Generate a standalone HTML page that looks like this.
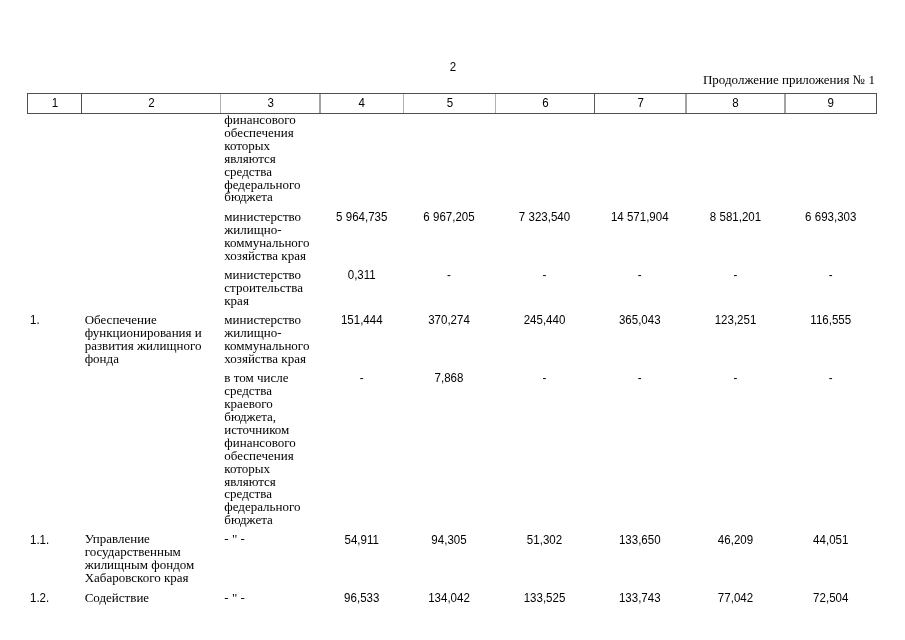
<!DOCTYPE html>
<html><head><meta charset="utf-8"><title>doc</title>
<style>
html,body{margin:0;padding:0;background:#fff;}
body{width:905px;height:640px;position:relative;overflow:hidden;color:#000;}
#w{position:absolute;left:0;top:0;width:905px;height:640px;will-change:transform;}
.s,.n{position:absolute;white-space:nowrap;height:14px;line-height:14px;}
.s{font-family:"Liberation Serif",serif;font-size:13.0px;}
.n{font-family:"Liberation Sans",sans-serif;font-size:12.4px;transform:scaleX(0.93);transform-origin:0 0;}
.c{text-align:center;transform-origin:50% 0;}
.l{position:absolute;}
</style></head><body><div id="w">

<div class="n c" style="left:432.75px;width:40.00px;top:60px;">2</div>
<div class="s" style="right:30.1px;top:73px;">Продолжение приложения № 1</div>
<div class="l" style="left:27px;top:93px;width:1px;height:21px;background:#505050;"></div>
<div class="l" style="left:81px;top:93px;width:1px;height:21px;background:#505050;"></div>
<div class="l" style="left:220px;top:93px;width:1px;height:21px;background:#b0b0b0;"></div>
<div class="l" style="left:319px;top:93px;width:2px;height:21px;background:#a2a2a2;"></div>
<div class="l" style="left:403px;top:93px;width:1px;height:21px;background:#b0b0b0;"></div>
<div class="l" style="left:495px;top:93px;width:1px;height:21px;background:#b0b0b0;"></div>
<div class="l" style="left:594px;top:93px;width:1px;height:21px;background:#585858;"></div>
<div class="l" style="left:685px;top:93px;width:2px;height:21px;background:#a4a4a4;"></div>
<div class="l" style="left:784px;top:93px;width:2px;height:21px;background:#a4a4a4;"></div>
<div class="l" style="left:876px;top:93px;width:1px;height:21px;background:#505050;"></div>
<div class="l" style="left:27px;top:93px;width:850px;height:1px;background:#505050;"></div>
<div class="l" style="left:27px;top:113px;width:850px;height:1px;background:#505050;"></div>
<div class="n c" style="left:27.50px;width:54.00px;top:96px;">1</div>
<div class="n c" style="left:81.50px;width:139.00px;top:96px;">2</div>
<div class="n c" style="left:220.50px;width:99.50px;top:96px;">3</div>
<div class="n c" style="left:320.00px;width:83.50px;top:96px;">4</div>
<div class="n c" style="left:403.50px;width:92.00px;top:96px;">5</div>
<div class="n c" style="left:495.50px;width:99.00px;top:96px;">6</div>
<div class="n c" style="left:594.50px;width:91.50px;top:96px;">7</div>
<div class="n c" style="left:686.00px;width:99.00px;top:96px;">8</div>
<div class="n c" style="left:785.00px;width:91.50px;top:96px;">9</div>
<div class="s" style="left:224.3px;top:113px;">финансового</div>
<div class="s" style="left:224.3px;top:126px;">обеспечения</div>
<div class="s" style="left:224.3px;top:139px;">которых</div>
<div class="s" style="left:224.3px;top:152px;">являются</div>
<div class="s" style="left:224.3px;top:165px;">средства</div>
<div class="s" style="left:224.3px;top:178px;">федерального</div>
<div class="s" style="left:224.3px;top:190px;">бюджета</div>
<div class="s" style="left:224.3px;top:210px;">министерство</div>
<div class="s" style="left:224.3px;top:223px;">жилищно-</div>
<div class="s" style="left:224.3px;top:236px;">коммунального</div>
<div class="s" style="left:224.3px;top:249px;">хозяйства края</div>
<div class="n c" style="left:320.30px;width:83.50px;top:210px;">5 964,735</div>
<div class="n c" style="left:403.30px;width:92.00px;top:210px;">6 967,205</div>
<div class="n c" style="left:495.20px;width:99.00px;top:210px;">7 323,540</div>
<div class="n c" style="left:594.20px;width:91.50px;top:210px;">14 571,904</div>
<div class="n c" style="left:686.00px;width:99.00px;top:210px;">8 581,201</div>
<div class="n c" style="left:785.00px;width:91.50px;top:210px;">6 693,303</div>
<div class="s" style="left:224.3px;top:268px;">министерство</div>
<div class="s" style="left:224.3px;top:281px;">строительства</div>
<div class="s" style="left:224.3px;top:294px;">края</div>
<div class="n c" style="left:320.30px;width:83.50px;top:268px;">0,311</div>
<div class="n c" style="left:403.30px;width:92.00px;top:268px;">-</div>
<div class="n c" style="left:495.20px;width:99.00px;top:268px;">-</div>
<div class="n c" style="left:594.20px;width:91.50px;top:268px;">-</div>
<div class="n c" style="left:686.00px;width:99.00px;top:268px;">-</div>
<div class="n c" style="left:785.00px;width:91.50px;top:268px;">-</div>
<div class="n" style="left:30.4px;top:313px;">1.</div>
<div class="s" style="left:84.7px;top:313px;">Обеспечение</div>
<div class="s" style="left:84.7px;top:326px;">функционирования и</div>
<div class="s" style="left:84.7px;top:339px;">развития жилищного</div>
<div class="s" style="left:84.7px;top:352px;">фонда</div>
<div class="s" style="left:224.3px;top:313px;">министерство</div>
<div class="s" style="left:224.3px;top:326px;">жилищно-</div>
<div class="s" style="left:224.3px;top:339px;">коммунального</div>
<div class="s" style="left:224.3px;top:352px;">хозяйства края</div>
<div class="n c" style="left:320.30px;width:83.50px;top:313px;">151,444</div>
<div class="n c" style="left:403.30px;width:92.00px;top:313px;">370,274</div>
<div class="n c" style="left:495.20px;width:99.00px;top:313px;">245,440</div>
<div class="n c" style="left:594.20px;width:91.50px;top:313px;">365,043</div>
<div class="n c" style="left:686.00px;width:99.00px;top:313px;">123,251</div>
<div class="n c" style="left:785.00px;width:91.50px;top:313px;">116,555</div>
<div class="s" style="left:224.3px;top:371px;">в том числе</div>
<div class="s" style="left:224.3px;top:384px;">средства</div>
<div class="s" style="left:224.3px;top:397px;">краевого</div>
<div class="s" style="left:224.3px;top:410px;">бюджета,</div>
<div class="s" style="left:224.3px;top:423px;">источником</div>
<div class="s" style="left:224.3px;top:436px;">финансового</div>
<div class="s" style="left:224.3px;top:449px;">обеспечения</div>
<div class="s" style="left:224.3px;top:462px;">которых</div>
<div class="s" style="left:224.3px;top:475px;">являются</div>
<div class="s" style="left:224.3px;top:487px;">средства</div>
<div class="s" style="left:224.3px;top:500px;">федерального</div>
<div class="s" style="left:224.3px;top:513px;">бюджета</div>
<div class="n c" style="left:320.30px;width:83.50px;top:371px;">-</div>
<div class="n c" style="left:403.30px;width:92.00px;top:371px;">7,868</div>
<div class="n c" style="left:495.20px;width:99.00px;top:371px;">-</div>
<div class="n c" style="left:594.20px;width:91.50px;top:371px;">-</div>
<div class="n c" style="left:686.00px;width:99.00px;top:371px;">-</div>
<div class="n c" style="left:785.00px;width:91.50px;top:371px;">-</div>
<div class="n" style="left:30.4px;top:533px;">1.1.</div>
<div class="s" style="left:84.7px;top:532px;">Управление</div>
<div class="s" style="left:84.7px;top:545px;">государственным</div>
<div class="s" style="left:84.7px;top:558px;">жилищным фондом</div>
<div class="s" style="left:84.7px;top:571px;">Хабаровского края</div>
<div class="s" style="left:224.3px;top:532px;">- &quot; -</div>
<div class="n c" style="left:320.30px;width:83.50px;top:533px;">54,911</div>
<div class="n c" style="left:403.30px;width:92.00px;top:533px;">94,305</div>
<div class="n c" style="left:495.20px;width:99.00px;top:533px;">51,302</div>
<div class="n c" style="left:594.20px;width:91.50px;top:533px;">133,650</div>
<div class="n c" style="left:686.00px;width:99.00px;top:533px;">46,209</div>
<div class="n c" style="left:785.00px;width:91.50px;top:533px;">44,051</div>
<div class="n" style="left:30.4px;top:591px;">1.2.</div>
<div class="s" style="left:84.7px;top:591px;">Содействие</div>
<div class="s" style="left:224.3px;top:591px;">- &quot; -</div>
<div class="n c" style="left:320.30px;width:83.50px;top:591px;">96,533</div>
<div class="n c" style="left:403.30px;width:92.00px;top:591px;">134,042</div>
<div class="n c" style="left:495.20px;width:99.00px;top:591px;">133,525</div>
<div class="n c" style="left:594.20px;width:91.50px;top:591px;">133,743</div>
<div class="n c" style="left:686.00px;width:99.00px;top:591px;">77,042</div>
<div class="n c" style="left:785.00px;width:91.50px;top:591px;">72,504</div>
</div></body></html>
